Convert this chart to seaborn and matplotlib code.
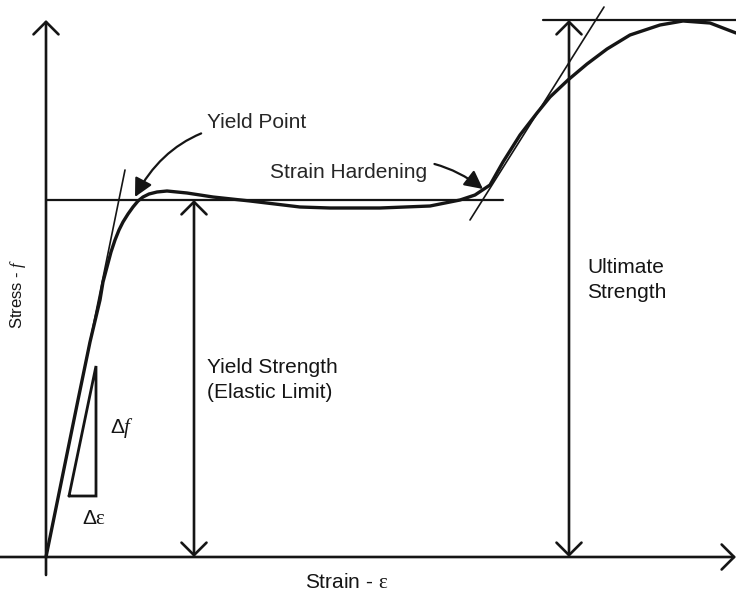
import numpy as np
import pandas as pd
import seaborn as sns
import matplotlib.pyplot as plt

# stress-strain curve (origin = axes corner, drawing units)
strain = [0, 32, 44, 54, 57, 61, 65, 69, 73, 77, 82, 87, 92, 97, 103, 111, 121, 141,
          167, 204, 254, 284, 334, 384, 414, 429, 444, 457, 474, 491, 504, 522, 541,
          561, 584, 614, 637, 664, 690]
stress = [0, 157, 215, 257, 275, 290, 305, 317, 327, 335, 343, 350, 356, 360, 363,
          365, 366, 364, 360, 356, 350, 349, 349, 351, 357, 362, 372, 395, 422, 444,
          460, 477, 493, 508, 522, 532, 536, 534, 524]

# construction lines
elastic_x, elastic_y = [0, 79], [0, 387]
hard_x, hard_y = [424, 558], [337, 550]
yield_stress, yield_line_x = 357, [0, 457]
yield_strain = 148
ult_stress, ult_strain, ult_line_x = 537, 523, [497, 690]
tri_x, tri_y = [23, 50, 50, 23], [61, 191, 61, 61]

ink = "#151515"

sns.set_theme(style="white")
plt.rcParams["font.family"] = ["Liberation Sans", "DejaVu Sans"]
plt.rcParams["mathtext.fontset"] = "custom"
plt.rcParams["mathtext.rm"] = "Liberation Serif"
plt.rcParams["mathtext.it"] = "Liberation Serif:italic"

fig = plt.figure(figsize=(7.36, 5.93), dpi=100)
ax = fig.add_axes([0, 0, 1, 1])
ax.set_xlim(-46, 690)
ax.set_ylim(-36, 557)
ax.axis("off")

df = pd.DataFrame({"strain": strain, "stress": stress})
sns.lineplot(data=df, x="strain", y="stress", sort=False, estimator=None,
             color=ink, lw=2.4, ax=ax)

ax.plot(elastic_x, elastic_y, color=ink, lw=1.2)
ax.plot(hard_x, hard_y, color=ink, lw=1.2)
ax.plot(yield_line_x, [yield_stress] * 2, color=ink, lw=1.6)
ax.plot(ult_line_x, [ult_stress] * 2, color=ink, lw=1.6)
ax.plot(tri_x, tri_y, color=ink, lw=2.0, solid_joinstyle="miter")

head = "->,head_length=0.45,head_width=0.45"
dbl = "<->,head_length=0.45,head_width=0.45"
ap = dict(arrowstyle=head, lw=1.9, color=ink, shrinkA=0, shrinkB=0, mutation_scale=20)
# axes
ax.annotate("", xy=(0, 537), xytext=(0, -18), arrowprops=ap)
ax.annotate("", xy=(690, 0), xytext=(-46, 0), arrowprops=ap)
# strength markers
ap2 = dict(ap, arrowstyle=dbl)
ax.annotate("", xy=(yield_strain, yield_stress), xytext=(yield_strain, 0), arrowprops=ap2)
ax.annotate("", xy=(ult_strain, ult_stress), xytext=(ult_strain, 0), arrowprops=ap2)

# callouts
ax.annotate("Yield Point", xy=(89, 360), xytext=(161, 434), fontsize=15,
            ha="left", va="center",
            arrowprops=dict(arrowstyle="-|>,head_length=0.55,head_width=0.28", lw=1.6,
                            color=ink, connectionstyle="arc3,rad=0.3",
                            shrinkA=2, shrinkB=0, mutation_scale=20))
ax.annotate("Strain Hardening", xy=(437, 368), xytext=(224, 384), fontsize=15,
            ha="left", va="center",
            arrowprops=dict(arrowstyle="-|>,head_length=0.55,head_width=0.28", lw=1.6,
                            color=ink, connectionstyle="arc3,rad=-0.3",
                            shrinkA=3, shrinkB=0, mutation_scale=20))

ax.text(541, 277, "Ultimate\nStrength", fontsize=15, ha="left", va="center",
        linespacing=1.35, color=ink)
ax.text(161, 177, "Yield Strength\n(Elastic Limit)", fontsize=15, ha="left",
        va="center", linespacing=1.35, color=ink)
ax.text(64, 129, r"Δ$f$", fontsize=15, ha="left", va="center", color=ink)
ax.text(36, 39, r"Δ$\mathrm{\varepsilon}$", fontsize=15, ha="left", va="center", color=ink)
ax.text(-28, 263, r"Stress - $f$", fontsize=12, rotation=90, ha="center",
        va="center", color=ink)
ax.text(259, -25, r"Strain - $\mathrm{\varepsilon}$", fontsize=15, ha="left",
        va="center", color=ink)

fig.savefig("out.png", dpi=100)
